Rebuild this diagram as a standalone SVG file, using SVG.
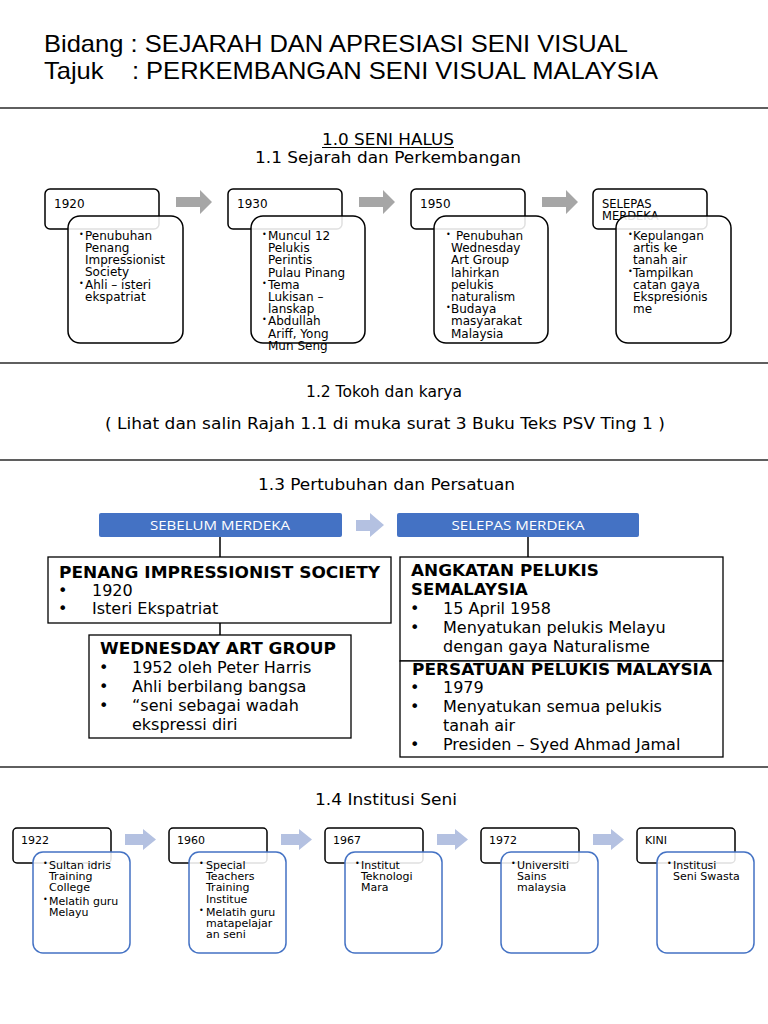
<svg xmlns="http://www.w3.org/2000/svg" width="768" height="1024" viewBox="0 0 768 1024">
<style>
.hdr{font-family:"Liberation Sans",Arial,sans-serif;font-size:24px;fill:#000}
.ttl{font-family:"DejaVu Sans",sans-serif;font-size:15.5px;fill:#000}
.sep{stroke:#5f5f5f;stroke-width:2}
.ob{fill:#fff;stroke:#000;stroke-width:1.5}
.ib{fill:#fff;fill-opacity:0.88;stroke:#000;stroke-width:1.5}
.ib2{fill:#fff;fill-opacity:0.88;stroke:#4472C4;stroke-width:1.5}
.t11{font-family:"DejaVu Sans",sans-serif;font-size:12px;fill:#000}
.t14{font-family:"DejaVu Sans",sans-serif;font-size:11px;fill:#000}
.bul{font-family:"DejaVu Sans",sans-serif;font-size:8px;fill:#000}
.bar{fill:#4472C4}
.bart{font-family:"Open Sans","Liberation Sans",sans-serif;font-size:12.5px;fill:#fff;text-anchor:middle}
.box{fill:#fff;stroke:#000;stroke-width:1.3}
.bh{font-family:"DejaVu Sans",sans-serif;font-weight:bold;font-size:16.5px;fill:#000}
.bt{font-family:"DejaVu Sans",sans-serif;font-size:16px;fill:#000}
.con{stroke:#000;stroke-width:1.5;fill:none}
.ga{fill:#a6a6a6}
.ba{fill:#b4c1e1}
</style>

<g id="header">
<text class="hdr" x="44" y="52" textLength="584" lengthAdjust="spacingAndGlyphs">Bidang : SEJARAH DAN APRESIASI SENI VISUAL</text>
<text class="hdr" x="44" y="79" xml:space="preserve" textLength="614" lengthAdjust="spacingAndGlyphs">Tajuk    : PERKEMBANGAN SENI VISUAL MALAYSIA</text>
</g>

<g id="separators">
<line class="sep" x1="0" y1="108" x2="768" y2="108"/>
<line class="sep" x1="0" y1="363" x2="768" y2="363"/>
<line class="sep" x1="0" y1="460" x2="768" y2="460"/>
<line class="sep" x1="0" y1="767" x2="768" y2="767"/>
</g>

<g id="titles">
<text class="ttl" x="322" y="145" textLength="132" lengthAdjust="spacingAndGlyphs">1.0 SENI HALUS</text>
<line x1="322" y1="147.5" x2="454" y2="147.5" stroke="#000" stroke-width="1"/>
<text class="ttl" x="255" y="163" textLength="266" lengthAdjust="spacingAndGlyphs">1.1 Sejarah dan Perkembangan</text>
<text class="ttl" x="384" y="397" text-anchor="middle">1.2 Tokoh dan karya</text>
<text class="ttl" x="105" y="429" textLength="560" lengthAdjust="spacingAndGlyphs">( Lihat dan salin Rajah 1.1 di muka surat 3 Buku Teks PSV Ting 1 )</text>
<text class="ttl" x="258" y="490" textLength="257" lengthAdjust="spacingAndGlyphs">1.3 Pertubuhan dan Persatuan</text>
<text class="ttl" x="315" y="805" textLength="142" lengthAdjust="spacingAndGlyphs">1.4 Institusi Seni</text>
</g>

<g id="connectors">
<path class="ga" d="M176,197 H200 V190 L212,202 L200,214 V207 H176 Z"/>
<path class="ga" d="M359,197 H383 V190 L395,202 L383,214 V207 H359 Z"/>
<path class="ga" d="M542,197 H566 V190 L578,202 L566,214 V207 H542 Z"/>
<path class="ba" d="M356,520 H370 V513 L384,525 L370,537 V531 H356 Z"/>
<line class="con" x1="220" y1="537" x2="220" y2="557"/>
<line class="con" x1="220" y1="623" x2="220" y2="635"/>
<line class="con" x1="528" y1="537" x2="528" y2="557"/>
<path class="ba" d="M125,834 H143 V829 L156,839.5 L143,850 V845 H125 Z"/>
<path class="ba" d="M281,834 H299 V829 L312,839.5 L299,850 V845 H281 Z"/>
<path class="ba" d="M437,834 H455 V829 L468,839.5 L455,850 V845 H437 Z"/>
<path class="ba" d="M593,834 H611 V829 L624,839.5 L611,850 V845 H593 Z"/>
</g>

<g id="n1920">
<rect class="ob" x="45" y="189" width="114" height="40" rx="5"/>
<text class="t11" x="54" y="208">1920</text>
<rect class="ib" x="68" y="216" width="115" height="127" rx="12"/>
<text class="bul" x="79" y="237">•</text>
<text class="t11" x="85" y="240">Penubuhan</text>
<text class="t11" x="85" y="252">Penang</text>
<text class="t11" x="85" y="264">Impressionist</text>
<text class="t11" x="85" y="276">Society</text>
<text class="bul" x="79" y="286">•</text>
<text class="t11" x="85" y="289">Ahli – isteri</text>
<text class="t11" x="85" y="301">ekspatriat</text>
</g>

<g id="n1930">
<rect class="ob" x="228" y="189" width="114" height="40" rx="5"/>
<text class="t11" x="237" y="208">1930</text>
<rect class="ib" x="251" y="216" width="114" height="127" rx="12"/>
<text class="bul" x="262" y="237">•</text>
<text class="t11" x="268" y="240">Muncul 12</text>
<text class="t11" x="268" y="252">Pelukis</text>
<text class="t11" x="268" y="264">Perintis</text>
<text class="t11" x="268" y="277">Pulau Pinang</text>
<text class="bul" x="262" y="286">•</text>
<text class="t11" x="268" y="289">Tema</text>
<text class="t11" x="268" y="301">Lukisan –</text>
<text class="t11" x="268" y="313">lanskap</text>
<text class="bul" x="262" y="322">•</text>
<text class="t11" x="268" y="325">Abdullah</text>
<text class="t11" x="268" y="338">Ariff, Yong</text>
<text class="t11" x="268" y="350">Mun Seng</text>
</g>

<g id="n1950">
<rect class="ob" x="411" y="189" width="114" height="40" rx="5"/>
<text class="t11" x="420" y="208">1950</text>
<rect class="ib" x="434" y="216" width="114" height="127" rx="12"/>
<text class="bul" x="446" y="237">•</text>
<text class="t11" x="456" y="240">Penubuhan</text>
<text class="t11" x="451" y="252">Wednesday</text>
<text class="t11" x="451" y="264">Art Group</text>
<text class="t11" x="451" y="277">lahirkan</text>
<text class="t11" x="451" y="289">pelukis</text>
<text class="t11" x="451" y="301">naturalism</text>
<text class="bul" x="446" y="310">•</text>
<text class="t11" x="451" y="313">Budaya</text>
<text class="t11" x="451" y="325">masyarakat</text>
<text class="t11" x="451" y="338">Malaysia</text>
</g>

<g id="nSelepas">
<rect class="ob" x="593" y="189" width="114" height="40" rx="5"/>
<text class="t11" x="602" y="208" style="font-size:11.5px">SELEPAS</text>
<text class="t11" x="602" y="220" style="font-size:11.5px">MERDEKA</text>
<rect class="ib" x="616" y="216" width="115" height="127" rx="12"/>
<text class="bul" x="628" y="237">•</text>
<text class="t11" x="633" y="240">Kepulangan</text>
<text class="t11" x="633" y="252">artis ke</text>
<text class="t11" x="633" y="264">tanah air</text>
<text class="bul" x="628" y="274">•</text>
<text class="t11" x="633" y="277">Tampilkan</text>
<text class="t11" x="633" y="289">catan gaya</text>
<text class="t11" x="633" y="301">Ekspresionis</text>
<text class="t11" x="633" y="313">me</text>
</g>

<g id="barSebelum">
<rect class="bar" x="99" y="513" width="243" height="24" rx="2"/>
<text class="bart" x="220" y="529.5" textLength="140" lengthAdjust="spacingAndGlyphs">SEBELUM MERDEKA</text>
</g>
<g id="barSelepas">
<rect class="bar" x="397" y="513" width="242" height="24" rx="2"/>
<text class="bart" x="518" y="529.5" textLength="133" lengthAdjust="spacingAndGlyphs">SELEPAS MERDEKA</text>
</g>

<g id="penang">
<rect class="box" x="48" y="557" width="343" height="66"/>
<text class="bh" x="59" y="578" textLength="321" lengthAdjust="spacingAndGlyphs">PENANG IMPRESSIONIST SOCIETY</text>
<text class="bt" x="58" y="596">•</text>
<text class="bt" x="92" y="596">1920</text>
<text class="bt" x="58" y="614">•</text>
<text class="bt" x="92" y="614">Isteri Ekspatriat</text>
</g>

<g id="wag">
<rect class="box" x="89" y="635" width="262" height="103"/>
<text class="bh" x="100" y="654" textLength="236" lengthAdjust="spacingAndGlyphs">WEDNESDAY ART GROUP</text>
<text class="bt" x="99" y="673">•</text>
<text class="bt" x="132" y="673">1952 oleh Peter Harris</text>
<text class="bt" x="99" y="692">•</text>
<text class="bt" x="132" y="692">Ahli berbilang bangsa</text>
<text class="bt" x="99" y="711">•</text>
<text class="bt" x="132" y="711">“seni sebagai wadah</text>
<text class="bt" x="132" y="730">ekspressi diri</text>
</g>

<g id="angkatan">
<rect class="box" x="400" y="557" width="323" height="104"/>
<text class="bh" x="411" y="576" textLength="188" lengthAdjust="spacingAndGlyphs">ANGKATAN PELUKIS</text>
<text class="bh" x="411" y="595">SEMALAYSIA</text>
<text class="bt" x="410" y="614">•</text>
<text class="bt" x="443" y="614">15 April 1958</text>
<text class="bt" x="410" y="633">•</text>
<text class="bt" x="443" y="633">Menyatukan pelukis Melayu</text>
<text class="bt" x="443" y="652">dengan gaya Naturalisme</text>
</g>

<g id="persatuan">
<rect class="box" x="400" y="661" width="323" height="96"/>
<text class="bh" x="412" y="675" textLength="300" lengthAdjust="spacingAndGlyphs">PERSATUAN PELUKIS MALAYSIA</text>
<text class="bt" x="410" y="693">•</text>
<text class="bt" x="443" y="693">1979</text>
<text class="bt" x="410" y="712">•</text>
<text class="bt" x="443" y="712">Menyatukan semua pelukis</text>
<text class="bt" x="443" y="731">tanah air</text>
<text class="bt" x="410" y="750">•</text>
<text class="bt" x="443" y="750">Presiden – Syed Ahmad Jamal</text>
</g>

<g id="i1922">
<rect class="ob" x="13" y="828" width="98" height="35" rx="4"/>
<text class="t14" x="21" y="844">1922</text>
<rect class="ib2" x="33" y="852" width="97" height="101" rx="10"/>
<text class="bul" x="43" y="866">•</text>
<text class="t14" x="49" y="869">Sultan idris</text>
<text class="t14" x="49" y="880">Training</text>
<text class="t14" x="49" y="891">College</text>
<text class="bul" x="43" y="902">•</text>
<text class="t14" x="49" y="905">Melatih guru</text>
<text class="t14" x="49" y="916">Melayu</text>
</g>

<g id="i1960">
<rect class="ob" x="169" y="828" width="98" height="35" rx="4"/>
<text class="t14" x="177" y="844">1960</text>
<rect class="ib2" x="189" y="852" width="97" height="101" rx="10"/>
<text class="bul" x="199" y="866">•</text>
<text class="t14" x="206" y="869">Special</text>
<text class="t14" x="206" y="880">Teachers</text>
<text class="t14" x="206" y="891">Training</text>
<text class="t14" x="206" y="903">Institue</text>
<text class="bul" x="199" y="913">•</text>
<text class="t14" x="206" y="916">Melatih guru</text>
<text class="t14" x="206" y="927">matapelajar</text>
<text class="t14" x="206" y="938">an seni</text>
</g>

<g id="i1967">
<rect class="ob" x="325" y="828" width="98" height="35" rx="4"/>
<text class="t14" x="333" y="844">1967</text>
<rect class="ib2" x="345" y="852" width="97" height="101" rx="10"/>
<text class="bul" x="355" y="866">•</text>
<text class="t14" x="361" y="869">Institut</text>
<text class="t14" x="361" y="880">Teknologi</text>
<text class="t14" x="361" y="891">Mara</text>
</g>

<g id="i1972">
<rect class="ob" x="481" y="828" width="98" height="35" rx="4"/>
<text class="t14" x="489" y="844">1972</text>
<rect class="ib2" x="501" y="852" width="97" height="101" rx="10"/>
<text class="bul" x="511" y="866">•</text>
<text class="t14" x="517" y="869">Universiti</text>
<text class="t14" x="517" y="880">Sains</text>
<text class="t14" x="517" y="891">malaysia</text>
</g>

<g id="iKini">
<rect class="ob" x="637" y="828" width="98" height="35" rx="4"/>
<text class="t14" x="645" y="844">KINI</text>
<rect class="ib2" x="657" y="852" width="97" height="101" rx="10"/>
<text class="bul" x="667" y="866">•</text>
<text class="t14" x="673" y="869">Institusi</text>
<text class="t14" x="673" y="880">Seni Swasta</text>
</g>
</svg>
